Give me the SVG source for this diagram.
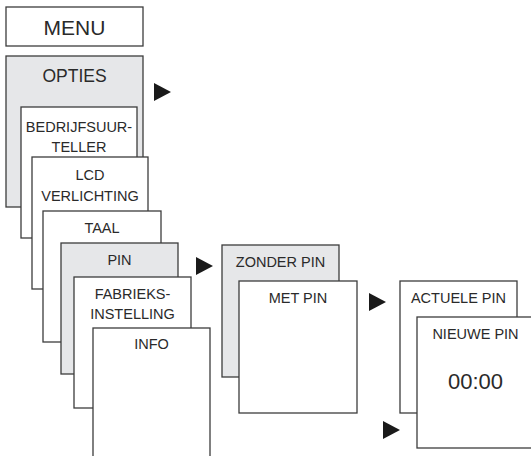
<svg xmlns="http://www.w3.org/2000/svg" xmlns:xlink="http://www.w3.org/1999/xlink" width="531" height="456" viewBox="0 0 531 456">
  <style>
    .box { fill: #ffffff; stroke: #3c3c3c; stroke-width: 1.3; }
    .grey { fill: #e6e7e9; }
    text { font-family: "Liberation Sans", Arial, sans-serif; font-size: 14.5px; fill: #2a2a2a; text-anchor: middle; }
    .big { font-size: 21px; }
    .mid { font-size: 17.5px; }
    .time { font-size: 22px; }
    .tri { fill: #1a1a1a; }
  </style>
  <defs>
    <polygon id="tri" class="tri" points="0,0 17,9 0,18"/>
  </defs>
  <rect width="531" height="456" fill="#ffffff"/>

  <g id="menu">
    <rect class="box" x="6" y="7" width="137" height="39"/>
    <text class="big" x="74.5" y="35">MENU</text>
  </g>
  <g id="opties">
    <rect class="box grey" x="6" y="56" width="137" height="151"/>
    <text class="mid" x="74.5" y="82">OPTIES</text>
  </g>
  <g id="bedrijfsuurteller">
    <rect class="box" x="21" y="107" width="116" height="131"/>
    <text x="79" y="132">BEDRIJFSUUR-</text>
    <text x="79" y="152">TELLER</text>
  </g>
  <g id="lcd">
    <rect class="box" x="32" y="157" width="116" height="132"/>
    <text x="90" y="180">LCD</text>
    <text x="90" y="201">VERLICHTING</text>
  </g>
  <g id="taal">
    <rect class="box" x="43" y="211" width="118" height="131"/>
    <text x="102" y="233">TAAL</text>
  </g>
  <g id="pin">
    <rect class="box grey" x="61" y="243" width="117" height="131"/>
    <text x="119.5" y="265">PIN</text>
  </g>
  <g id="fabrieks">
    <rect class="box" x="74" y="277" width="117" height="131"/>
    <text x="132.5" y="299">FABRIEKS-</text>
    <text x="132.5" y="319">INSTELLING</text>
  </g>
  <g id="info">
    <rect class="box" x="93" y="328" width="117" height="140"/>
    <text x="151.5" y="349">INFO</text>
  </g>
  <g id="zonder-pin">
    <rect class="box grey" x="222" y="245" width="117" height="132"/>
    <text x="280.5" y="267">ZONDER PIN</text>
  </g>
  <g id="met-pin">
    <rect class="box" x="239" y="281" width="118" height="132"/>
    <text x="298" y="303">MET PIN</text>
  </g>
  <g id="actuele-pin">
    <rect class="box" x="400" y="281" width="117" height="132"/>
    <text x="458.5" y="303">ACTUELE PIN</text>
  </g>
  <g id="nieuwe-pin">
    <rect class="box" x="417" y="317" width="120" height="131"/>
    <text x="475.5" y="339">NIEUWE PIN</text>
    <text class="time" x="475.5" y="389">00:00</text>
  </g>

  <g id="connectors">
    <use xlink:href="#tri" x="154" y="83"/>
    <use xlink:href="#tri" x="196" y="257"/>
    <use xlink:href="#tri" x="369" y="293"/>
    <use xlink:href="#tri" x="383" y="421"/>
  </g>
</svg>
